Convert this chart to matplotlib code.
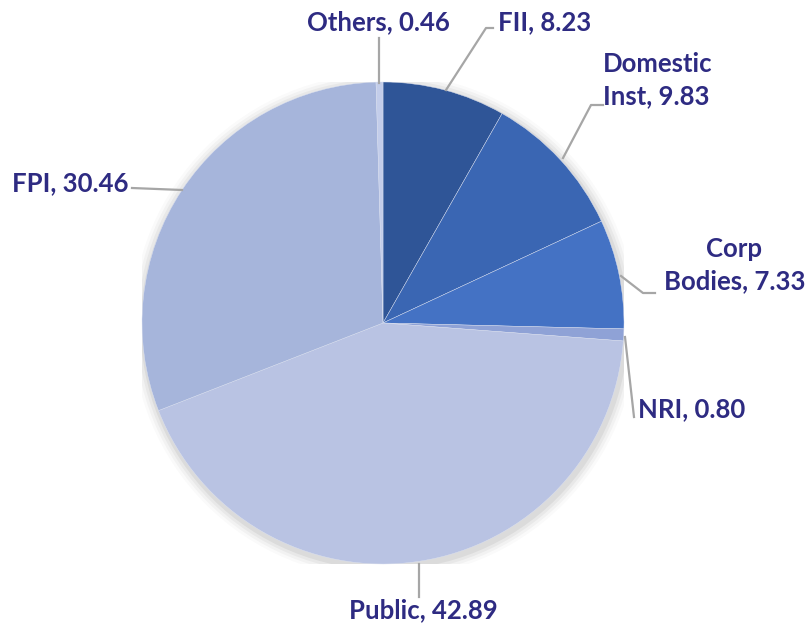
import matplotlib.pyplot as plt

# shareholding pattern (%)
labels = ['FII', 'Domestic\nInst', 'Corp\nBodies', 'NRI', 'Public', 'FPI', 'Others']
values = [8.23, 9.83, 7.33, 0.80, 42.89, 30.46, 0.46]
colors = ['#2F5597', '#3A66B3', '#4472C4', '#8FA2D6', '#B9C3E3', '#A6B5DB', '#C3CDEA']

# label text position / leader line points, in pixel coords of the 808x630 image
text_pos = [(498, 22, 'left'), (603, 80, 'left'), (805, 265, 'right'), (638, 409, 'left'),
            (423, 610, 'center'), (128, 183, 'right'), (378, 22, 'center')]
leaders = [[(446, 90), (486, 28), (493, 28)],
           [(563, 158), (591, 105), (603, 105)],
           [(621, 276), (643, 293), (655, 293)],
           [(625, 337), (634, 417)],
           [(419, 564), (419, 597)],
           [(182, 190), (132, 188)],
           [(379, 83), (379, 38)]]

cx, cy, r = 383, 323, 241
W, H = 808, 630

fig = plt.figure(figsize=(8.08, 6.30), dpi=100)
ax = fig.add_axes([(cx - r) / W, (H - cy - r) / H, 2 * r / W, 2 * r / H])

def to_data(px, py):
    return (px - cx) / r, (cy - py) / r

# soft shadow
for i, a in enumerate([0.05, 0.04, 0.03, 0.02]):
    ax.add_patch(plt.Circle((0.006, -0.012), 1.0 + 0.012 * (i + 1), color='#000000', alpha=a, lw=0))

ax.pie(values, colors=colors, startangle=90, counterclock=False, radius=1,
       wedgeprops=dict(edgecolor='#DCE2F2', linewidth=0.3))

for lab, v, (tx, ty, ha), pts in zip(labels, values, text_pos, leaders):
    xs, ys = zip(*[to_data(*p) for p in pts])
    ax.plot(xs, ys, color='#A6A6A6', lw=1.6, clip_on=False)
    x, y = to_data(tx, ty)
    ax.text(x, y, f'{lab}, {v:.2f}', ha=ha, va='center', fontsize=18.5, fontweight='bold',
            color='#2E2B82', family='Lato', linespacing=1.42,
            multialignment='center' if '\n' in lab and ha != 'left' else ha)

ax.set_xlim(-1, 1)
ax.set_ylim(-1, 1)
ax.set_aspect('equal')
ax.axis('off')

fig.savefig('out.png', dpi=100)
